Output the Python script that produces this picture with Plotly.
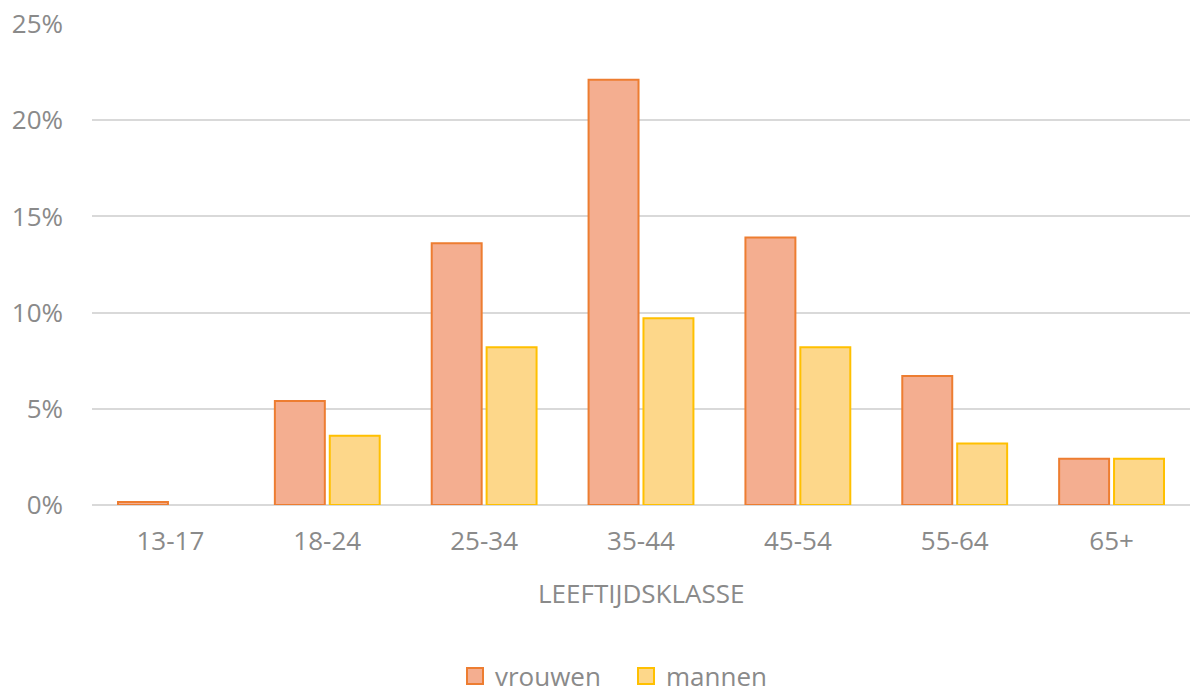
import plotly.graph_objects as go

categories = ["13-17", "18-24", "25-34", "35-44", "45-54", "55-64", "65+"]
vrouwen = [0.15, 5.4, 13.6, 22.1, 13.9, 6.7, 2.4]
mannen = [0.0, 3.6, 8.2, 9.7, 8.2, 3.2, 2.4]
y_ticks = [0, 5, 10, 15, 20, 25]
y_tick_labels = ["0%", "5%", "10%", "15%", "20%", "25%"]

font_fam = "Open Sans, Noto Sans, sans-serif"
gray = "#8a8a8a"
v_fill, v_line = "#F4AE90", "#ED7D31"
m_fill, m_line = "#FDD78A", "#FFC000"

fig = go.Figure()
fig.add_trace(go.Bar(
    name="vrouwen", x=categories, y=vrouwen, showlegend=False,
    marker=dict(color=v_fill, line=dict(color=v_line,
                width=[2 if v > 0 else 0 for v in vrouwen])),
))
fig.add_trace(go.Bar(
    name="mannen", x=categories, y=mannen, showlegend=False,
    marker=dict(color=m_fill, line=dict(color=m_line,
                width=[2 if v > 0 else 0 for v in mannen])),
))
# legend entries with larger square swatches
for name, fc, lc in [("vrouwen", v_fill, v_line), ("mannen", m_fill, m_line)]:
    fig.add_trace(go.Scatter(
        x=[None], y=[None], mode="markers", name=name,
        marker=dict(symbol="square", size=19, color=fc, line=dict(color=lc, width=2)),
    ))

fig.update_layout(
    width=1190, height=697,
    margin=dict(l=92, r=0, t=24, b=192),
    paper_bgcolor="white", plot_bgcolor="white",
    barmode="group", bargap=0.3, bargroupgap=0.09,
    font=dict(family=font_fam, color=gray, size=26),
    showlegend=True,
    legend=dict(orientation="h", x=(455 - 92) / 1098, xanchor="left",
                yref="container", y=0.03, yanchor="middle",
                font=dict(size=26, color=gray), itemwidth=30,
                entrywidth=126, entrywidthmode="pixels",
                itemclick=False),
    xaxis=dict(
        showgrid=False, showline=False, zeroline=False, automargin=False,
        tickfont=dict(size=26, color=gray), ticks="", ticklabelstandoff=18,
    ),
    yaxis=dict(
        range=[0, 25], tickvals=y_ticks, ticktext=y_tick_labels, automargin=False,
        showgrid=True, gridcolor="#D9D9D9", gridwidth=2,
        zeroline=True, zerolinecolor="#D9D9D9", zerolinewidth=2,
        tickfont=dict(size=26, color=gray), ticks="", ticklabelstandoff=28,
    ),
    annotations=[dict(
        text="LEEFTIJDSKLASSE", xref="paper", yref="paper",
        x=(641 - 92) / (1190 - 92), y=-(593 - 505) / (505 - 24),
        xanchor="center", yanchor="middle", showarrow=False,
        font=dict(size=26, color=gray),
    )],
)

fig.write_html("out.html")
